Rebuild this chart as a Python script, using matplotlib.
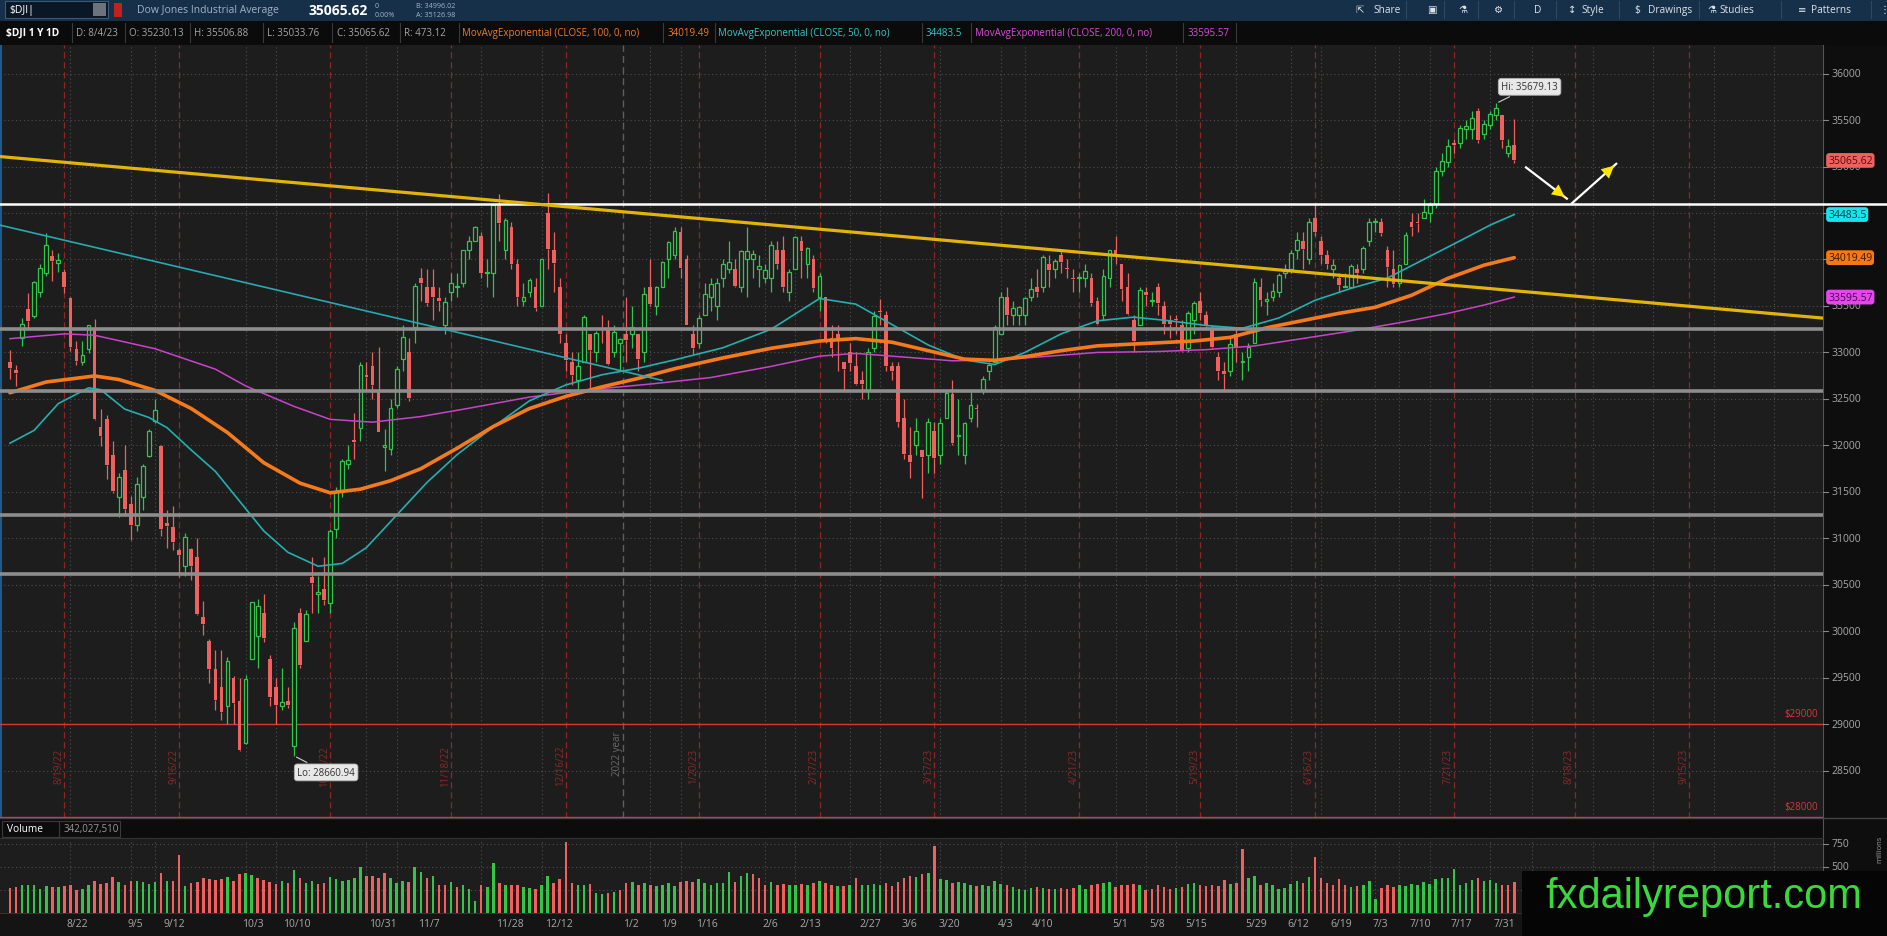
import numpy as np
import matplotlib.pyplot as plt
from matplotlib.patches import Rectangle, FancyArrowPatch
from matplotlib.transforms import blended_transform_factory

plt.rcParams['font.family'] = ['Open Sans', 'DejaVu Sans']

# $DJI daily bars, 8/8/22 .. 8/4/23 (one row per month)
opens = [32900, 32810, 33150, 33470, 33390, 33650, 33850, 34040, 33960, 33870, 33590, 33040, 32900, 33040, 33250, 32200, 32280, 31900,
         31450, 31730, 31370, 31140, 31450, 31890, 32260, 31990, 31160, 31120, 30870, 30700, 30880, 30800, 30150, 29900, 29590, 29400, 29200, 29500, 29250,
         28800, 29700, 29950, 30200, 29700, 29400, 29200, 29250, 28770, 30200, 29900, 30580, 30400, 30450, 30300, 31100, 31500, 31800, 32060, 32190, 32760,
         32850, 32580, 31980, 31960, 32430, 32930, 33000, 33270, 33800, 33700, 33700, 33590, 33300, 33650, 33700, 33750, 34100, 34200, 34250, 33850, 33850,
         34600, 34100, 34350, 33950, 33550, 33650, 33700, 33500, 34500, 34100, 33700, 33100, 32900, 32700, 32900, 33200, 33000, 33250, 33250, 33000, 33100,
         33200, 33200, 33200, 33000, 33700, 33500, 33700, 34000, 34050, 34300, 34000, 33200, 33100, 33400, 33600, 33500, 33800, 33900, 33900, 33700,
         34000, 34000, 33900, 33800, 33800, 34100, 34100, 33650, 33900, 34200, 33950, 34000, 33600, 33600, 33150, 33200, 32900, 33000, 32850,
         32700, 32600, 33050, 33450, 33400, 32850, 32850, 32300, 31900, 32000, 31950, 31900, 32150, 31900, 32300, 32550, 32100, 31900, 32300, 32400, 32600, 32800, 32900,
         33200, 33600, 33400, 33400, 33400, 33600, 33700, 33700, 33950, 33900, 34050, 33900, 33800, 33800, 33800, 33800, 33550, 33400, 33800,
         34100, 33950, 33700, 33350, 33300, 33650, 33550, 33700, 33500, 33350, 33350, 33300, 33050, 33350, 33550, 33400, 33250, 32950, 32800, 32800, 33200, 32900,
         32950, 33100, 33700, 33550, 33600, 33650, 33850, 33900, 34100, 34200, 34000, 34450, 34200, 34050, 33900, 33800, 33700, 33700, 33900, 33900, 34200,
         34400, 34400, 34100, 33900, 33750, 33950, 34400, 34400, 34450, 34500, 34600, 34950, 35050, 35250, 35250, 35400, 35400, 35600, 35350, 35450,
         35550, 35550, 35150, 35230.13]
highs = [33030, 32860, 33370, 33640, 33770, 33950, 34281, 34100, 34070, 33900, 33600, 33120, 33120, 33300, 33360, 32390, 32330, 32050,
         31700, 32000, 31460, 31660, 31800, 32180, 32500, 32000, 31300, 31350, 30900, 31060, 30900, 31000, 30330, 29920, 29800, 29800, 29720, 29520, 29500,
         29530, 30320, 30350, 30400, 29750, 29500, 29600, 29400, 30100, 30250, 30230, 30800, 30600, 30800, 31100, 31550, 31850, 32000, 32350, 32900, 32900,
         33000, 33060, 32180, 32500, 32850, 33300, 33150, 33750, 33910, 33900, 33900, 33700, 33600, 33850, 33850, 34100, 34250, 34360, 34300, 34000, 34590,
         34700, 34450, 34400, 34000, 33750, 33800, 33800, 34000, 34712, 34300, 33800, 33200, 33000, 33000, 33400, 33200, 33230, 33400, 33350, 33300, 33150,
         33600, 33500, 33200, 33700, 34000, 33720, 33980, 34200, 34350, 34350, 34050, 33300, 33400, 33750, 33800, 33800, 34000, 34200, 34000, 34100,
         34350, 34100, 34050, 33950, 34200, 34200, 34250, 33900, 34250, 34250, 34130, 34050, 33850, 33600, 33300, 33300, 32900, 33100, 33000,
         32800, 33050, 33450, 33570, 33450, 32900, 32900, 32500, 32200, 32300, 31950, 32300, 32250, 32300, 32600, 32700, 32500, 32250, 32600, 32450, 32750, 32900, 33300,
         33650, 33700, 33550, 33500, 33600, 33800, 33900, 34050, 34050, 34000, 34100, 34000, 33900, 33850, 33950, 33850, 33600, 33900, 34100,
         34250, 33950, 33850, 33400, 33700, 33700, 33650, 33750, 33550, 33400, 33400, 33350, 33450, 33550, 33650, 33450, 33300, 33000, 32900, 33150, 33250, 33000,
         33100, 33800, 33800, 33650, 33750, 33850, 33950, 34100, 34300, 34300, 34450, 34600, 34250, 34100, 34000, 33850, 33850, 33950, 33950, 34150, 34450,
         34450, 34450, 34150, 34100, 33950, 34300, 34500, 34500, 34650, 34620, 35000, 35150, 35300, 35300, 35450, 35500, 35600, 35630, 35500, 35600,
         35679.13, 35550, 35300, 35506.88]
lows = [32710, 32640, 33070, 33250, 33370, 33600, 33820, 33770, 33870, 33640, 33020, 32870, 32870, 32990, 32274, 31990, 31640, 31490,
        31230, 31260, 30980, 31080, 31300, 31870, 32240, 31030, 30900, 30870, 30580, 30600, 30550, 30180, 29960, 29440, 29150, 29050, 29000, 29000, 28715,
        28790, 29700, 29600, 29890, 29200, 29000, 29150, 29170, 28660.94, 29600, 29900, 30200, 30200, 30280, 30200, 31000, 31450, 31750, 31850, 32050, 32600,
        32500, 32140, 31720, 31900, 32400, 32800, 32480, 33100, 33550, 33500, 33350, 33450, 33200, 33550, 33600, 33700, 34000, 34200, 33800, 33700, 33600,
        34200, 34000, 33900, 33500, 33500, 33600, 33450, 33500, 33900, 33650, 33100, 32800, 32650, 32600, 32900, 32580, 32900, 33100, 32870, 32950, 32800,
        32900, 33050, 32800, 32900, 33500, 33400, 33700, 33800, 34000, 33800, 33300, 32980, 33050, 33400, 33450, 33350, 33700, 33850, 33700, 33650,
        33600, 33800, 33700, 33750, 33650, 33900, 33650, 33550, 33900, 33800, 33800, 33650, 33450, 33100, 32950, 32800, 32600, 32800, 32650,
        32500, 32500, 33000, 33300, 32800, 32700, 32200, 31850, 31650, 31900, 31430, 31700, 31700, 31800, 32300, 32000, 31900, 31800, 32250, 32200, 32550, 32700, 32900,
        33200, 33300, 33300, 33300, 33300, 33550, 33600, 33650, 33700, 33800, 33850, 33800, 33650, 33650, 33700, 33500, 33300, 33350, 33700,
        33950, 33550, 33400, 33000, 33300, 33500, 33500, 33400, 33200, 33150, 33200, 33000, 33000, 33200, 33350, 33250, 33050, 32700, 32600, 32750, 32900, 32700,
        32800, 33100, 33500, 33400, 33550, 33600, 33800, 33850, 34000, 33900, 33950, 34250, 33950, 33900, 33800, 33650, 33700, 33700, 33750, 33850, 34150,
        34300, 34250, 33700, 33700, 33700, 33950, 34250, 34300, 34450, 34400, 34550, 34900, 35000, 35150, 35200, 35300, 35300, 35250, 35300, 35400,
        35500, 35200, 35100, 35033.76]
closes = [32833, 32774, 33309, 33336, 33761, 33912, 34152, 33980, 33999, 33706, 33063, 32909, 32969, 33291, 32283, 32098, 31790, 31510,
          31656, 31318, 31145, 31581, 31774, 32151, 32381, 31105, 31135, 30961, 30822, 31019, 30706, 30184, 30077, 29590, 29260, 29135, 29684, 29226, 28726,
          29491, 30317, 30274, 29927, 29297, 29203, 29240, 29211, 30039, 29635, 30186, 30524, 30424, 30334, 31083, 31500, 31837, 31839, 32034, 32862, 32733,
          32653, 32148, 32002, 32403, 32827, 33161, 32514, 33716, 33748, 33537, 33593, 33553, 33547, 33746, 33700, 34098, 34195, 34347, 33850, 33853, 34590,
          34395, 34430, 33947, 33597, 33598, 33781, 33476, 34005, 34108, 33966, 33203, 32920, 32757, 32850, 33377, 33027, 33204, 33241, 32876, 33221, 33147,
          33136, 33270, 32930, 33631, 33518, 33704, 33973, 34190, 34303, 33910, 33297, 33045, 33375, 33629, 33734, 33744, 33949, 33978, 33717, 34086,
          34093, 34054, 33926, 33891, 34156, 33949, 33699, 33869, 34246, 34089, 34128, 33697, 33827, 33130, 33045, 33154, 32817, 32889, 32657,
          32662, 33004, 33391, 33432, 32856, 32798, 32255, 31910, 31820, 32155, 31875, 32247, 31862, 32245, 32561, 32031, 32106, 32238, 32433, 32395, 32718, 32860, 33274,
          33601, 33403, 33483, 33486, 33587, 33685, 33647, 34030, 33887, 33988, 33977, 33897, 33787, 33809, 33876, 33531, 33302, 33827, 34098,
          34052, 33684, 33414, 33128, 33675, 33619, 33562, 33532, 33310, 33301, 33349, 33012, 33421, 33536, 33427, 33287, 33056, 32800, 32765, 33093, 33043, 32908,
          33062, 33763, 33563, 33573, 33665, 33834, 33877, 34066, 34212, 34108, 34408, 34299, 34053, 33952, 33946, 33727, 33714, 33927, 33853, 34122, 34408,
          34418, 34288, 33922, 33735, 33944, 34262, 34348, 34395, 34509, 34586, 34952, 35061, 35225, 35228, 35411, 35438, 35520, 35282, 35459, 35560,
          35630, 35283, 35216, 35065.62]
volumes = [270, 280, 310, 305, 300, 260, 290, 285, 280, 295, 305, 250, 260, 300, 345, 320, 330, 390,
           335, 305, 350, 345, 340, 315, 335, 440, 350, 350, 625, 295, 330, 340, 380, 370, 360, 375, 390, 345, 420,
           430, 410, 380, 360, 340, 320, 350, 330, 470, 380, 330, 350, 320, 330, 390, 370, 350, 360, 380, 500, 400,
           400, 380, 440, 380, 330, 350, 340, 500, 450, 380, 400, 310, 310, 340, 280, 300, 260, 130, 310, 280, 545,
           330, 300, 310, 300, 280, 270, 260, 300, 400, 330, 370, 770, 330, 310, 300, 320, 220, 210, 220, 230, 250,
           330, 340, 300, 330, 300, 290, 310, 330, 290, 340, 350, 340, 370, 330, 300, 330, 330, 445, 340, 400,
           430, 420, 380, 300, 340, 310, 320, 300, 310, 320, 300, 330, 350, 330, 300, 290, 290, 310, 380,
           310, 300, 320, 310, 330, 290, 340, 380, 400, 390, 420, 440, 730, 370, 360, 330, 340, 330, 300, 290, 300, 290, 350,
           320, 300, 280, 260, 250, 270, 280, 270, 260, 260, 270, 260, 270, 310, 260, 300, 320, 330, 340,
           280, 300, 310, 320, 310, 250, 260, 300, 280, 260, 270, 280, 320, 330, 310, 290, 310, 290, 360, 320, 330, 700,
           380, 400, 300, 330, 300, 260, 270, 320, 350, 330, 390, 610, 380, 330, 300, 370, 300, 280, 290, 300, 350,
           150, 270, 300, 280, 310, 290, 320, 300, 340, 320, 370, 380, 380, 480, 310, 330, 360, 380, 350, 360,
           330, 300, 310, 342.03]

# exponential moving averages at sample bars
ema50_bar = [0, 4, 8, 13, 15, 19, 23, 26, 30, 34, 38, 42, 46, 51, 55, 59, 64, 69, 74, 80, 86, 92, 98, 104, 110, 118, 126, 134, 140, 146,
             152, 158, 163, 168, 174, 180, 186, 192, 198, 204, 210, 216, 222, 228, 234, 240, 245, 249]
ema50 = [32024, 32162, 32450, 32619, 32600, 32390, 32300, 32190, 31950, 31720, 31400, 31080, 30850, 30700, 30730, 30900, 31250, 31600, 31900, 32200,
         32480, 32650, 32760, 32830, 32920, 33050, 33250, 33580, 33520, 33300, 33080, 32920, 32870, 33000, 33200, 33340, 33380, 33340, 33290, 33260,
         33370, 33560, 33690, 33800, 34000, 34200, 34370, 34483.5]
ema100_bar = [0, 6, 14, 18, 24, 30, 36, 42, 48, 53, 58, 63, 68, 74, 80, 86, 92, 98, 104, 110, 118, 126, 134, 140, 146, 152, 158, 163, 168, 174,
              180, 188, 196, 202, 208, 214, 220, 226, 232, 238, 244, 249]
ema100 = [32566, 32682, 32747, 32709, 32592, 32397, 32138, 31814, 31594, 31490, 31529, 31620, 31749, 31969, 32203, 32397, 32527, 32630, 32721, 32825,
          32941, 33045, 33123, 33149, 33110, 33019, 32928, 32915, 32954, 33019, 33071, 33097, 33123, 33162, 33265, 33343, 33421, 33486, 33615, 33797,
          33939, 34019.49]
ema200_bar = [0, 9, 14, 24, 34, 39, 47, 53, 60, 68, 76, 86, 96, 106, 116, 126, 134, 140, 148, 156, 164, 172, 180, 190, 198, 206, 214, 222, 230, 238,
              244, 249]
ema200 = [33148, 33200, 33185, 33040, 32820, 32640, 32420, 32280, 32250, 32310, 32400, 32520, 32600, 32660, 32730, 32850, 32960, 32990, 32950, 32910,
          32920, 32960, 33000, 33010, 33030, 33070, 33150, 33230, 33320, 33420, 33510, 33595.57]

# drawings on the chart
support_levels = [33250, 32580, 31250, 30620]
white_level = 34600
price_alerts = [29000, 28000]

week_labels = ['8/22', '9/5', '9/12', '10/3', '10/10', '10/31', '11/7', '11/28', '12/12', '1/2', '1/9', '1/16', '2/6', '2/13', '2/27',
               '3/6', '3/20', '4/3', '4/10', '5/1', '5/8', '5/15', '5/29', '6/12', '6/19', '7/3', '7/10', '7/17', '7/31']
week_label_bar = [11.2, 20.7, 27.2, 40.2, 47.4, 61.7, 69.3, 82.8, 90.8, 102.8, 109.0, 115.3, 125.8, 132.5, 142.4,
                  148.8, 155.5, 164.8, 171.0, 183.8, 189.8, 196.4, 206.3, 213.3, 220.3, 226.8, 233.4, 240.2, 247.4]
week_grid_bar = [10, 20, 24, 39, 44, 59, 64, 78, 88, 106, 111, 125, 130, 139, 144, 154, 164, 168, 183, 188, 193, 203, 212, 217, 226, 230, 235, 245,
                 252, 262, 272, 282, 292]
expiry_labels = ['8/19/22', '9/16/22', '10/21/22', '11/18/22', '12/16/22', '1/20/23', '2/17/23', '3/17/23', '4/21/23', '5/19/23',
                 '6/16/23', '7/21/23', '8/18/23', '9/15/23']
expiry_bar = [9, 28, 53, 73, 92, 114, 134, 153, 177, 197, 216, 239, 259, 278]

# ---- layout helpers (screen units of the 1568x779 screenshot) ----
W, H = 1568.0, 779.0
def fx(x): return x / W
def fy(y): return 1 - y / H
def bx(x): return (x - 8.3) / 5.02
def py(y): return 36000 - (y - 62) * 12.94

BG = '#1d1d1d'
GREEN = '#34c44a'
RED = '#f0605f'
GRID = '#4f4f4f'

fig = plt.figure(figsize=(18.87, 9.37), dpi=100, facecolor='#121212')

def frect(x0, y0, x1, y1, fc, ec='none', lw=0, z=-1):
    fig.add_artist(Rectangle((fx(x0), fy(y1)), fx(x1) - fx(x0), fy(y0) - fy(y1), transform=fig.transFigure,
                             facecolor=fc, edgecolor=ec, lw=lw, zorder=z))

def ftext(x, y, s, **kw):
    kw.setdefault('va', 'center')
    kw.setdefault('fontsize', 7)
    fig.text(fx(x), fy(y), s, **kw)

def fline(x0, y0, x1, y1, color, lw=0.8, z=-0.5):
    fig.add_artist(plt.Line2D([fx(x0), fx(x1)], [fy(y0), fy(y1)], transform=fig.transFigure, color=color, lw=lw, zorder=z))

# background blocks
frect(0, 0, W, 18, '#173049')
frect(0, 18, W, 38, '#0b0b0b')
frect(1515, 38, W, 760, '#0e0e0e')
frect(0, 681, 1515, 698, '#0c0c0c')
frect(0, 760, W, H, '#141414')
fline(1515, 38, 1515, 760, '#555555')
fline(0, 681, W, 681, '#444444', 1.0)
fline(0, 697.5, 1515, 697.5, '#333333')
fline(0, 760, 1515, 760, '#333333')

# toolbar
frect(4, 2, 90, 16, '#0a1826', '#3b5a78', 0.8)
ftext(8, 9, '$DJI|', color='white', fontsize=7.5)
frect(77, 3.5, 88, 14.5, '#6b747d')
frect(95, 3, 101, 15, '#c21f1f')
ftext(114, 9, 'Dow Jones Industrial Average', color='#9fb3c8', fontsize=7.5)
ftext(256, 9, '35065.62', color='white', fontsize=10, fontweight='bold')
ftext(311, 5.5, '0', color='#9fb3c8', fontsize=5.2)
ftext(311, 12.5, '0.00%', color='#9fb3c8', fontsize=5.2)
ftext(346, 5.5, 'B: 34996.02', color='#9fb3c8', fontsize=5.2)
ftext(346, 12.5, 'A: 35126.98', color='#9fb3c8', fontsize=5.2)
for x, s in [(1126, '\u21f1'), (1141, 'Share'), (1186, '\u25a3'), (1212, '\u2697'), (1241, '\u2699'), (1275, 'D'),
             (1303, '\u2195'), (1314, 'Style'), (1358, '$'), (1369, 'Drawings'), (1419, '\u2697'), (1429, 'Studies'),
             (1494, '\u2261'), (1505, 'Patterns'), (1562, '\u22ee')]:
    ftext(x, 9, s, color='#dbe3ea', fontsize=7.3)
for x in [1168, 1200, 1228, 1258, 1293, 1345, 1412, 1480, 1555]:
    fline(x, 2, x, 16, '#2c4862')

# study header row
ftext(5, 28, '$DJI 1 Y 1D', color='white', fontsize=7.3, fontweight='bold')
hdr = [(63, 'D: 8/4/23', '#a6a6a6'), (107, 'O: 35230.13', '#a6a6a6'), (161, 'H: 35506.88', '#a6a6a6'),
       (222, 'L: 35033.76', '#a6a6a6'), (280, 'C: 35065.62', '#a6a6a6'), (336, 'R: 473.12', '#a6a6a6'),
       (384, 'MovAvgExponential (CLOSE, 100, 0, no)', '#f07a22'), (555, '34019.49', '#f07a22'),
       (597, 'MovAvgExponential (CLOSE, 50, 0, no)', '#2fc9c9'), (769, '34483.5', '#2fc9c9'),
       (810, 'MovAvgExponential (CLOSE, 200, 0, no)', '#d94bd9'), (987, '33595.57', '#d94bd9')]
for x, s, c in hdr:
    ftext(x, 28, s, color=c, fontsize=7)
for x in [59.5, 104, 158, 218.5, 276, 332, 381, 551, 594, 766, 806.5, 983, 1027]:
    fline(x, 20, x, 36, '#3a3a3a')

# ---- price pane ----
ax = fig.add_axes([0, fy(681), fx(1515), fy(38) - fy(681)])
ax.set_facecolor(BG)
ax.set_xlim(bx(0), bx(1515))
ax.set_ylim(py(681), py(38))
ax.set_xticks([])
ax.set_yticks([])
for s in ax.spines.values():
    s.set_visible(False)
ax.plot([bx(0.8), bx(0.8)], [py(681), py(38)], color='#1f5a8a', lw=1.5)

ticks = np.arange(28500, 36001, 500)
for p in ticks:
    ax.axhline(p, color=GRID, lw=0.8, ls=(0, (1, 2.5)), zorder=1)
for g in week_grid_bar:
    ax.axvline(g, color=GRID, lw=0.8, ls=(0, (1, 2.5)), zorder=1)
for b, lab in zip(expiry_bar, expiry_labels):
    ax.axvline(b, color='#8f2626', lw=0.9, ls=(0, (5, 3)), zorder=1)
    ax.text(b - 0.9, py(637), lab, rotation=90, color='#8a2a2a', fontsize=7, ha='center', va='center')
ax.axvline(101.5, color='#5e5e5e', lw=1.0, ls=(0, (5, 3)), zorder=1)
ax.text(100.6, py(627), '2022 year', rotation=90, color='#6a6a6a', fontsize=7, ha='center', va='center')

for p in price_alerts:
    ax.axhline(p, color='#d23a3a', lw=1.0, zorder=2)
    ax.text(bx(1511), p + 60, '$%d' % p, color='#d23a3a', fontsize=7, ha='right', va='bottom')

# candles
o = np.array(opens); c = np.array(closes); hi = np.array(highs); lo = np.array(lows)
bars = np.arange(len(c))
up = c >= o
col = np.where(up, GREEN, RED)
top = np.maximum(o, c); bot = np.minimum(o, c)
ax.vlines(bars, top, hi, color=col, lw=0.9, zorder=3)
ax.vlines(bars, lo, bot, color=col, lw=0.9, zorder=3)
body = np.maximum(top - bot, 10)
ax.bar(bars[up], body[up], bottom=bot[up], width=0.62, facecolor=BG, edgecolor=GREEN, lw=0.9, zorder=3)
ax.bar(bars[~up], body[~up], bottom=bot[~up], width=0.62, color=RED, lw=0, zorder=3)

# moving averages
ax.plot(ema200_bar, ema200, color='#c944c9', lw=1.1, zorder=4)
ax.plot(ema50_bar, ema50, color='#22b0b0', lw=1.2, zorder=4)
ax.plot(ema100_bar, ema100, color='#f57a1c', lw=2.6, zorder=4, solid_capstyle='round')

# drawn lines
for p in support_levels:
    ax.axhline(p, color='#8d8d8d', lw=2.6, zorder=5)
ax.plot([bx(0), bx(1568)], [white_level, white_level], color='white', lw=1.8, zorder=5, clip_on=False)
ax.plot([bx(0), bx(1515)], [py(131), py(265.3)], color='#e2b40a', lw=2.3, zorder=5)
ax.plot([bx(0), bx(550)], [py(188), py(317)], color='#2aa8b2', lw=1.2, zorder=5)

# expected path arrows: white shaft, yellow head
for (x0, y0), (x1, y1) in [((1268, 140), (1302, 166)), ((1306, 170), (1343, 137))]:
    ax.plot([bx(x0), bx(x1)], [py(y0), py(y1)], color='white', lw=1.6, zorder=6)
    head = FancyArrowPatch((bx(x1 - (x1 - x0) * 0.3), py(y1 - (y1 - y0) * 0.3)), (bx(x1), py(y1)),
                           arrowstyle='-|>,head_length=0.9,head_width=0.45', mutation_scale=10,
                           fc='#ffe600', ec='#ffe600', lw=0, zorder=7)
    ax.add_patch(head)

bubble = dict(boxstyle='round,pad=0.3', fc='#e8e8e8', ec='#b0b0b0', lw=0.6)
ax.annotate('Hi: 35679.13', xy=(246, 35679.13), xytext=(bx(1271), py(73)), fontsize=7, color='#333333',
            ha='center', va='center', bbox=bubble, arrowprops=dict(arrowstyle='-', color='#cfcfcf', lw=0.8), zorder=8)
ax.annotate('Lo: 28660.94', xy=(47, 28660.94), xytext=(bx(271), py(643)), fontsize=7, color='#333333',
            ha='center', va='center', bbox=bubble, arrowprops=dict(arrowstyle='-', color='#cfcfcf', lw=0.8), zorder=8)

# price scale (34500 sits fully under the EMA50 tag)
for p in ticks:
    ax.plot([bx(1515), bx(1519)], [p, p], color='#888888', lw=0.8, clip_on=False)
    if p != 34500:
        ax.text(bx(1522), p, str(p), color='#a8a8a8', fontsize=7.5, va='center', ha='left', clip_on=False)
tags = [(35065.62, '35065.62', '#f0605f', '#5c0a0a'), (34483.5, '34483.5', '#19e3ec', '#063a40'),
        (34019.49, '34019.49', '#f27a12', '#3a1600'), (33595.57, '33595.57', '#e448ea', '#45084a')]
for v, s, fc, tc in tags:
    ax.text(bx(1519), v, s, color=tc, fontsize=7.5, va='center', ha='left', clip_on=False, zorder=10,
            bbox=dict(boxstyle='round,pad=0.18,rounding_size=0.3', fc=fc, ec='none'))

# ---- volume pane ----
axv = fig.add_axes([0, fy(760), fx(1515), fy(698) - fy(760)])
axv.set_facecolor(BG)
axv.set_xlim(bx(0), bx(1515))
axv.set_ylim(0, 808)
axv.set_xticks([])
axv.set_yticks([])
for s in axv.spines.values():
    s.set_visible(False)
for v in [250, 500, 750]:
    axv.axhline(v, color=GRID, lw=0.8, ls=(0, (1, 2.5)), zorder=1)
    axv.plot([bx(1515), bx(1519)], [v, v], color='#888888', lw=0.8, clip_on=False)
for v in [500, 750]:
    axv.text(bx(1522), v, str(v), color='#a8a8a8', fontsize=7.5, va='center', ha='left', clip_on=False)
for g in week_grid_bar:
    axv.axvline(g, color=GRID, lw=0.8, ls=(0, (1, 2.5)), zorder=1)
prev = np.r_[o[0], c[:-1]]
vcol = np.where(c >= prev, GREEN, RED)
axv.bar(bars, volumes, width=0.42, color=vcol, lw=0, zorder=3)
ftext(1562, 706, 'millions', color='#999999', fontsize=5.5, rotation=90, ha='center')

frect(2, 683, 49, 697, 'none', '#3a3a3a', 0.8, 1)
frect(49, 683, 100, 697, 'none', '#3a3a3a', 0.8, 1)
ftext(6, 690, 'Volume', color='white', fontsize=7.3)
ftext(53, 690, '342,027,510', color='#9a9a9a', fontsize=7)

trans = blended_transform_factory(axv.transData, fig.transFigure)
for b, lab in zip(week_label_bar, week_labels):
    axv.text(b, fy(769), lab, transform=trans, color='#a8a8a8', fontsize=7.5, ha='center', va='center', clip_on=False)

# watermark
frect(1265, 725, W, H, '#050505', z=6)
ftext(1416, 746, 'fxdailyreport.com', color='#3bd83b', fontsize=30, family='Liberation Sans', ha='center', zorder=7)

fig.savefig('out.png', dpi=100, facecolor=fig.get_facecolor())
